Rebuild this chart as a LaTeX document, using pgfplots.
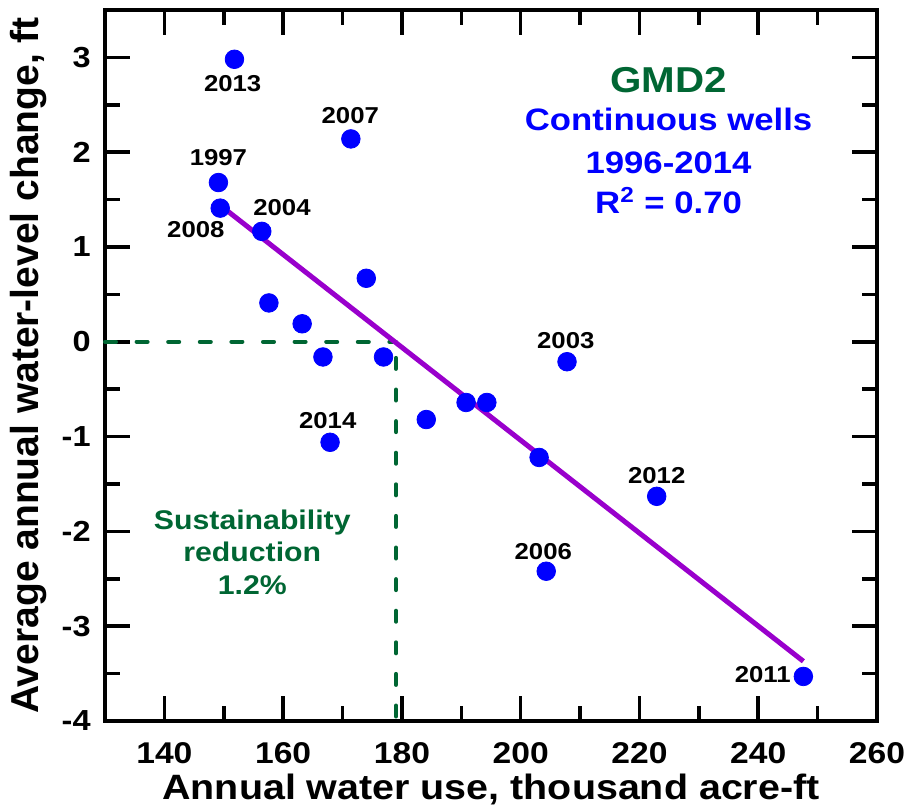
\documentclass[border=0pt]{standalone}
\usepackage{fontspec}
\usepackage{pgfplots}
\pgfplotsset{compat=1.18}
\newfontfamily\hfont{Liberation Sans}[FakeStretch=1.12]
\newfontfamily\vfont{Liberation Sans}
\definecolor{ptblue}{RGB}{0,0,255}
\definecolor{fitpurple}{RGB}{153,0,204}
\definecolor{gmdgreen}{RGB}{0,102,51}
\newcommand{\fs}[1]{\fontsize{#1}{1.2\dimexpr#1\relax}\selectfont}

% water use (thousand acre-ft) vs. average water-level change (ft), 1996-2014
\pgfplotstableread{
x      y
149.1  1.68
156.4  1.165
157.6  0.41
207.8  -0.21
204.3  -2.42
171.4  2.14
149.4  1.41
174.0  0.67
163.2  0.19
166.7  -0.16
176.9  -0.16
184.1  -0.82
190.8  -0.64
194.3  -0.64
203.1  -1.22
247.6  -3.53
222.9  -1.63
151.8  2.98
167.9  -1.06
}\wells

\begin{document}
\begin{tikzpicture}
\begin{axis}[
  width=386pt, height=355.5pt, scale only axis,
  xmin=130, xmax=260, ymin=-4, ymax=3.5,
  xtick={140,160,...,260}, minor x tick num=1,
  ytick={-4,-3,...,3}, minor y tick num=1,
  tick align=inside,
  axis line style={line width=2.2pt},
  every tick/.style={black, line width=1.8pt},
  major tick length=12.5pt, minor tick length=7.5pt,
  /pgf/number format/assume math mode=true,
  xticklabel style={font=\hfont\bfseries\fs{15pt}, anchor=base, yshift=-21.25pt},
  yticklabel style={font=\hfont\bfseries\fs{14.5pt}, anchor=east, inner sep=0pt, xshift=-7pt},
  xlabel={Annual water use, thousand acre-ft},
  ylabel={Average annual water-level change, ft},
  every axis x label/.style={at={(axis description cs:0.5,-0.111)}, anchor=base,
    font=\hfont\bfseries\fs{17.6pt}},
  every axis y label/.style={at={(axis description cs:-0.0997,0.5)}, rotate=90, anchor=center,
    font=\vfont\bfseries\fs{19.5pt}},
  clip=false,
]
\coordinate (bl) at (rel axis cs:0,0);

% zero-change reference lines
\addplot[gmdgreen, line width=2pt, line cap=round, dash pattern=on 5.5pt off 10.3pt]
  coordinates {(130,0) (179,0)};
\addplot[gmdgreen, line width=2pt, line cap=round, dash pattern=on 5.5pt off 10.3pt]
  coordinates {(179,-0.17) (179,-4)};

% least-squares fit
\addplot[fitpurple, line width=2.5pt] coordinates {(149.4,1.44) (247.6,-3.37)};

% observed years
\addplot[only marks, mark=*, mark size=4.65pt, color=ptblue, mark options={draw=ptblue, fill=ptblue}]
  table[x=x, y=y] {\wells};

% year labels
\begin{scope}[every node/.style={font=\hfont\bfseries\fs{11.5pt}, anchor=base, inner sep=0pt}]
\node at (axis cs:151.5,2.642) {2013};
\node at (axis cs:171.3,2.302) {2007};
\node at (axis cs:149.1,1.863) {1997};
\node at (axis cs:159.8,1.330) {2004};
\node at (axis cs:145.3,1.098) {2008};
\node at (axis cs:167.5,-0.919) {2014};
\node at (axis cs:207.6,-0.067) {2003};
\node at (axis cs:222.9,-1.498) {2012};
\node at (axis cs:203.8,-2.295) {2006};
\node at (axis cs:240.75,-3.593) {2011};
\end{scope}

% annotation
\begin{scope}[every node/.style={anchor=base, inner sep=0pt}]
\node[gmdgreen, font=\hfont\bfseries\fs{18pt}] at (axis cs:224.9,2.63) {GMD2};
\node[ptblue, font=\hfont\bfseries\fs{15.5pt}] at (axis cs:224.9,2.224) {Continuous wells};
\node[ptblue, font=\hfont\bfseries\fs{15.5pt}] at (axis cs:224.9,1.776) {1996-2014};
\node[ptblue, font=\hfont\bfseries\fs{15.5pt}] at (axis cs:224.9,1.355) {R\textsuperscript{2} = 0.70};
\node[gmdgreen, font=\hfont\bfseries\fs{13.5pt}] at (axis cs:154.8,-1.98) {Sustainability};
\node[gmdgreen, font=\hfont\bfseries\fs{13.5pt}] at (axis cs:154.8,-2.32) {reduction};
\node[gmdgreen, font=\hfont\bfseries\fs{13.5pt}] at (axis cs:154.8,-2.67) {1.2\%};
\end{scope}
\end{axis}
\pgfresetboundingbox
\path[use as bounding box] (bl) ++(-52.5pt,-44pt) rectangle ++(454.5pt,404.5pt);
\end{tikzpicture}
\end{document}
